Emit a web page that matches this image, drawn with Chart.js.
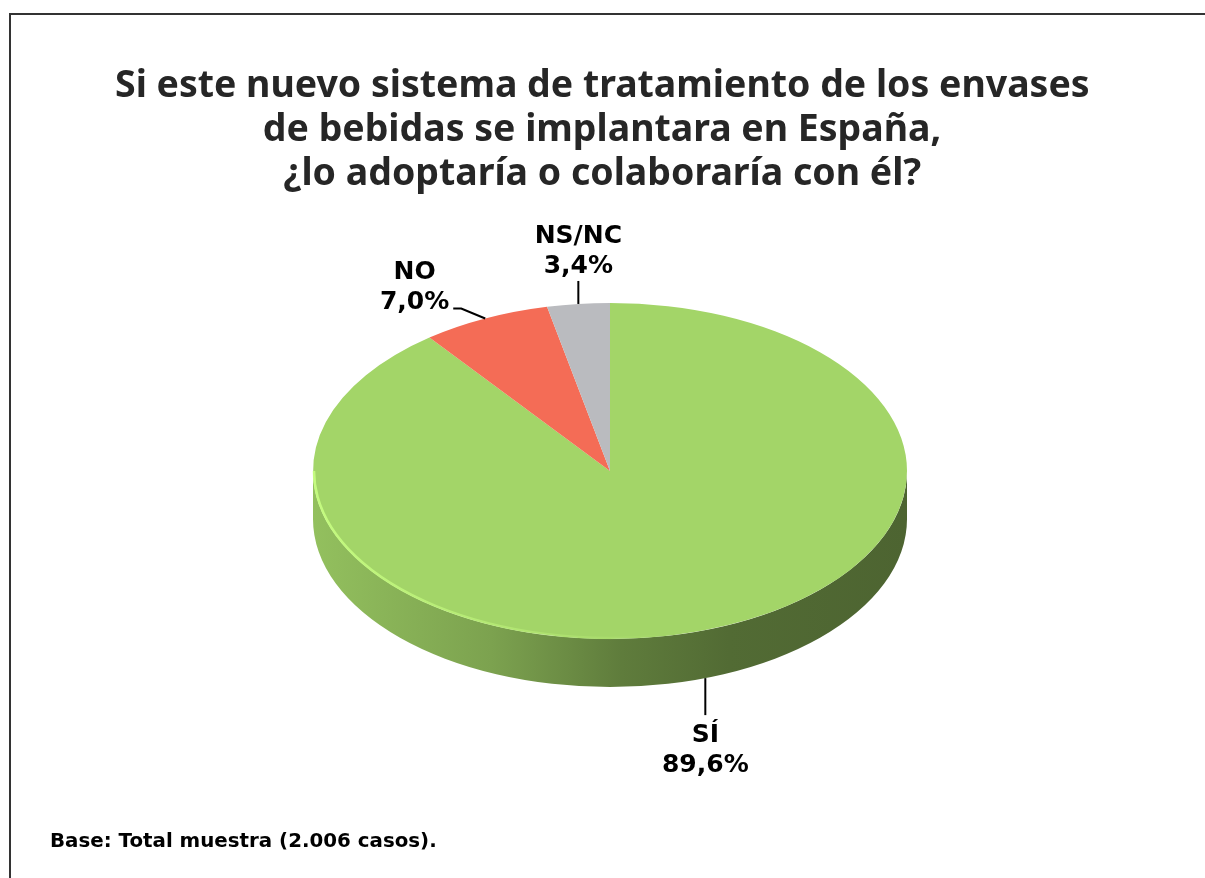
<!DOCTYPE html>
<html lang="es">
<head>
    <meta charset="UTF-8">
    <title>Adopción del nuevo sistema de envases</title>
    <script src="https://cdn.jsdelivr.net/npm/chart.js"></script>
    <style>
        body {
            margin: 0;
            background: #fff;
            font-family: 'DejaVu Sans', sans-serif;
            overflow: hidden;
        }
        /* frame line round the chart (only top and left show in the picture) */
        .frame {
            position: absolute;
            left: 9px;
            top: 13px;
            width: 1220px;
            height: 900px;
            border-top: 2px solid #333;
            border-left: 2px solid #333;
        }
        .wrap {
            position: absolute;
            left: 0;
            top: 0;
            width: 1205px;
            height: 878px;
        }
        .title {
            position: absolute;
            left: 0;
            top: 60px;
            width: 1205px;
            text-align: center;
            font-family: 'Noto Sans', sans-serif;
            font-weight: bold;
            font-size: 38px;
            line-height: 44px;
            color: #262626;
        }
        .title span, .note span {
            display: inline-block;
            white-space: nowrap;
        }
        .title span { transform-origin: center; }
        .note {
            position: absolute;
            left: 50px;
            top: 829px;
            font-weight: bold;
            font-size: 19px;
            line-height: 22px;
            color: #000;
        }
        .note span { transform-origin: left; }
    </style>
</head>
<body>
    <div class="frame"></div>
    <div class="wrap"><canvas id="chart"></canvas></div>
    <div class="title">
        <div><span>Si este nuevo sistema de tratamiento de los envases</span></div>
        <div><span>de bebidas se implantara en España,</span></div>
        <div><span>¿lo adoptaría o colaboraría con él?</span></div>
    </div>
    <div class="note"><span>Base: Total muestra (2.006 casos).</span></div>

    <script>
        // Data
        const categories = ['SÍ', 'NO', 'NS/NC'];
        const percentages = [89.6, 7.0, 3.4];
        const sliceColors = ['#A3D568', '#F46C56', '#BABBBF'];

        // Look of the tilted pie
        const TILT = 168 / 297;   // vertical squash of the pie top
        const DEPTH = 48;         // thickness of the pie side

        // Where each label sits relative to its slice
        const labelLayout = [
            { dx: 0, dy: 37, place: 'below' },
            { dx: -24, dy: -10, place: 'left' },
            { dx: 0, dy: -23, place: 'above' }
        ];

        // Condense the title and note a bit (the original font is narrower)
        const titleLines = document.querySelectorAll('.title span');
        const titleScale = 975 / titleLines[0].offsetWidth;
        titleLines.forEach(l => l.style.transform = 'scaleX(' + titleScale + ')');
        const note = document.querySelector('.note span');
        note.style.transform = 'scaleX(' + (387 / note.offsetWidth) + ')';

        function shade(hex, f) {
            const n = parseInt(hex.slice(1), 16);
            const c = [(n >> 16) & 255, (n >> 8) & 255, n & 255]
                .map(v => Math.max(0, Math.min(255, Math.round(v * f))));
            return 'rgb(' + c.join(',') + ')';
        }

        function fmt(v) {
            return v.toFixed(1).replace('.', ',') + '%';
        }

        const pie3d = {
            id: 'pie3d',
            beforeDatasetsDraw(chart) {
                const ctx = chart.ctx;
                const arcs = chart.getDatasetMeta(0).data;
                const cx = arcs[0].x, cy = arcs[0].y, r = arcs[0].outerRadius;
                const ry = r * TILT;

                // side walls, only the front half (angles 0..PI) is visible
                arcs.forEach((arc, i) => {
                    const color = sliceColors[i];
                    [-2 * Math.PI, 0, 2 * Math.PI].forEach(off => {
                        const s = Math.max(arc.startAngle, off);
                        const e = Math.min(arc.endAngle, off + Math.PI);
                        if (e <= s) return;
                        const g = ctx.createLinearGradient(cx - r, 0, cx + r, 0);
                        g.addColorStop(0, shade(color, 0.9));
                        g.addColorStop(0.3, shade(color, 0.76));
                        g.addColorStop(0.52, shade(color, 0.58));
                        g.addColorStop(0.7, shade(color, 0.5));
                        g.addColorStop(1, shade(color, 0.47));
                        ctx.beginPath();
                        ctx.ellipse(cx, cy, r, ry, 0, s - off, e - off, false);
                        ctx.ellipse(cx, cy + DEPTH, r, ry, 0, e - off, s - off, true);
                        ctx.closePath();
                        ctx.fillStyle = g;
                        ctx.fill();
                    });
                });

                // squash the pie top into an ellipse
                ctx.save();
                ctx.translate(0, cy);
                ctx.scale(1, TILT);
                ctx.translate(0, -cy);
            },
            afterDatasetsDraw(chart) {
                const ctx = chart.ctx;
                ctx.restore();
                const arcs = chart.getDatasetMeta(0).data;
                const cx = arcs[0].x, cy = arcs[0].y, r = arcs[0].outerRadius;
                const ry = r * TILT;

                // light rim on the front left edge
                const hg = ctx.createLinearGradient(cx - r, 0, cx + r * 0.2, 0);
                hg.addColorStop(0, 'rgba(200,255,130,0.9)');
                hg.addColorStop(1, 'rgba(200,255,130,0)');
                ctx.beginPath();
                ctx.ellipse(cx, cy, r - 1, ry - 1, 0, Math.PI * 0.45, Math.PI, false);
                ctx.strokeStyle = hg;
                ctx.lineWidth = 2.5;
                ctx.stroke();

                // labels with leader lines
                ctx.font = 'bold 25px "DejaVu Sans"';
                ctx.fillStyle = '#000';
                ctx.strokeStyle = '#000';
                ctx.lineWidth = 2;
                ctx.textAlign = 'center';
                ctx.textBaseline = 'alphabetic';
                arcs.forEach((arc, i) => {
                    const mid = (arc.startAngle + arc.endAngle) / 2;
                    const sn = Math.sin(mid);
                    const px = cx + r * Math.cos(mid);
                    const py = cy + ry * sn + (sn > 0 ? DEPTH : 0);
                    const lay = labelLayout[i];
                    const ex = px + lay.dx, ey = py + lay.dy;
                    const lines = [categories[i], fmt(percentages[i])];

                    ctx.beginPath();
                    ctx.moveTo(px, py);
                    ctx.lineTo(ex, ey);
                    let tx = ex, b1;
                    if (lay.place === 'left') {
                        ctx.lineTo(ex - 8, ey);
                        const w = Math.max(...lines.map(t => ctx.measureText(t).width));
                        tx = ex - 12 - w / 2;
                        b1 = ey - 30;
                    } else if (lay.place === 'above') {
                        b1 = ey - 38;
                    } else {
                        b1 = ey + 27;
                    }
                    ctx.stroke();
                    ctx.fillText(lines[0], tx, b1);
                    ctx.fillText(lines[1], tx, b1 + 30);
                });
            }
        };

        new Chart(document.getElementById('chart'), {
            type: 'pie',
            data: {
                labels: categories,
                datasets: [{
                    data: percentages,
                    backgroundColor: sliceColors,
                    borderWidth: 0,
                    hoverOffset: 0,
                    clip: false
                }]
            },
            options: {
                responsive: true,
                maintainAspectRatio: false,
                animation: false,
                layout: { padding: { left: 313, right: 298, top: 174, bottom: 110 } },
                plugins: {
                    legend: { display: false },
                    tooltip: { enabled: false },
                    title: { display: false }
                }
            },
            plugins: [pie3d]
        });
    </script>
</body>
</html>
